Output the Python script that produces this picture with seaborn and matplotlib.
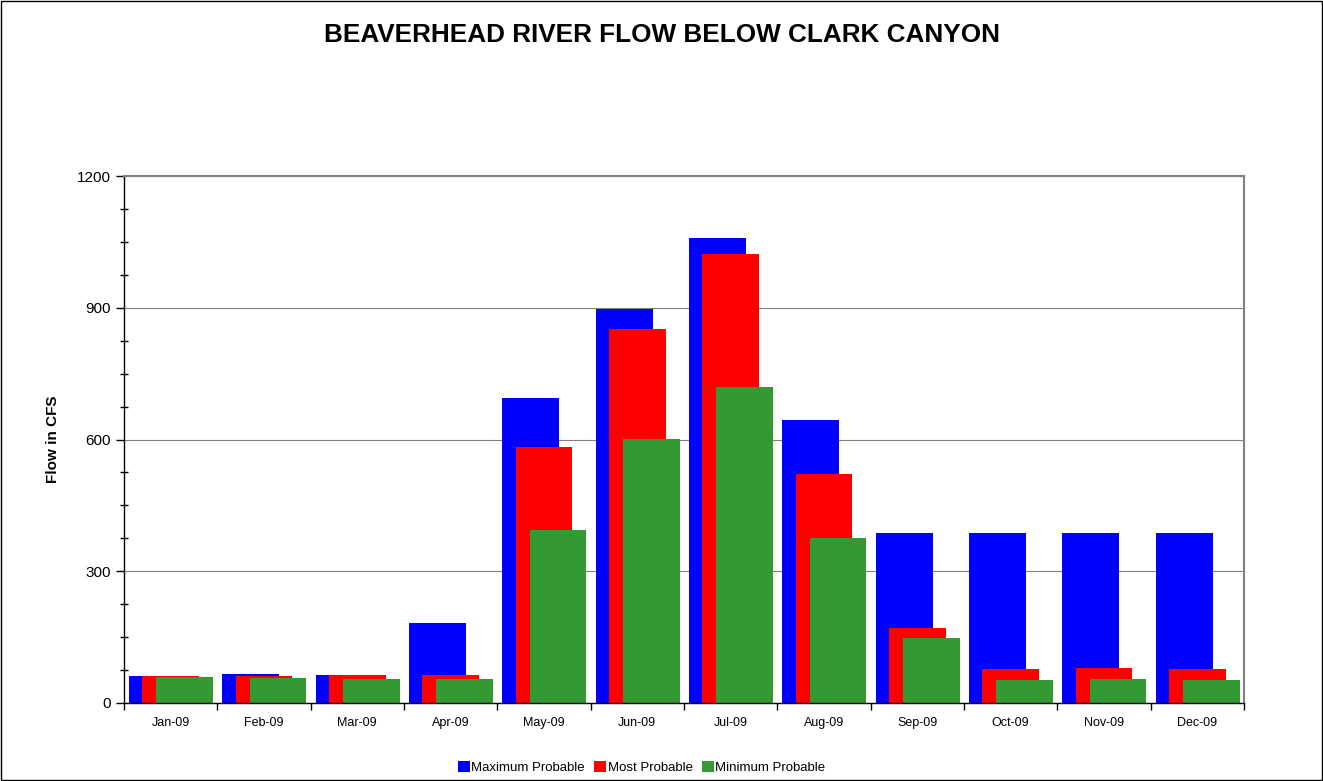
import pandas as pd
import matplotlib.pyplot as plt
import seaborn as sns
from matplotlib.patches import Rectangle
from matplotlib.ticker import MultipleLocator, FixedLocator

# Monthly flow forecasts (CFS)
months = ["Jan-09", "Feb-09", "Mar-09", "Apr-09", "May-09", "Jun-09",
          "Jul-09", "Aug-09", "Sep-09", "Oct-09", "Nov-09", "Dec-09"]
max_probable = [62, 66, 64, 182, 694, 898, 1060, 644, 387, 386, 387, 386]
most_probable = [62, 62, 63, 63, 583, 852, 1022, 521, 171, 77, 79, 77]
min_probable = [59, 58, 55, 55, 394, 601, 720, 376, 147, 52, 54, 52]

series = [
    ("Maximum Probable", max_probable, "#0000FF", -0.14),
    ("Most Probable", most_probable, "#FF0000", 0.0),
    ("Minimum Probable", min_probable, "#339933", 0.15),
]

sns.set_style("white")
plt.rcParams["font.family"] = ["Liberation Sans", "DejaVu Sans"]
plt.rcParams["text.color"] = "black"
plt.rcParams["axes.labelcolor"] = "black"
plt.rcParams["xtick.color"] = "black"
plt.rcParams["ytick.color"] = "black"

fig = plt.figure(figsize=(13.23, 7.81), dpi=100)
ax = fig.add_axes([0.0937, 0.0999, 0.8466, 0.6747])

bar_w = 0.61
for name, vals, color, shift in series:
    n_before = len(ax.patches)
    sns.barplot(x=months, y=vals, color=color, width=bar_w, ax=ax,
                linewidth=0, label=name, saturation=1)
    # shift this series' bars sideways so they overlap like the original
    for p in ax.patches[n_before:]:
        p.set_x(p.get_x() + shift)

if ax.get_legend() is not None:
    ax.get_legend().remove()

ax.set_xlim(-0.5, 11.5)
ax.set_ylim(0, 1200)
ax.yaxis.set_major_locator(MultipleLocator(300))
ax.yaxis.set_minor_locator(MultipleLocator(75))
ax.grid(axis="y", which="major", color="#808080", linewidth=0.8)
ax.set_axisbelow(True)

ax.xaxis.set_minor_locator(FixedLocator([i - 0.5 for i in range(13)]))
ax.tick_params(axis="x", which="major", length=0, labelsize=9, pad=10)
ax.tick_params(axis="x", which="minor", length=5, direction="out", width=1)
ax.tick_params(axis="y", which="major", length=6, direction="out", width=1, labelsize=11)
ax.tick_params(axis="y", which="minor", length=6, direction="inout", width=1)
ax.yaxis.set_ticks_position("left")
ax.xaxis.set_ticks_position("bottom")

for side in ["left", "bottom"]:
    ax.spines[side].set_color("black")
    ax.spines[side].set_linewidth(1)
for side in ["top", "right"]:
    ax.spines[side].set_visible(True)
    ax.spines[side].set_color("#808080")
    ax.spines[side].set_linewidth(1.5)

ax.set_xlabel("")
ax.set_ylabel("Flow in CFS", fontsize=11, fontweight="bold", labelpad=12)

fig.suptitle("BEAVERHEAD RIVER FLOW BELOW CLARK CANYON", fontsize=18.8,
             fontweight="bold", y=0.97)

handles, labels = ax.get_legend_handles_labels()
fig.legend(handles, labels, loc="center", bbox_to_anchor=(0.485, 0.017), ncol=3,
           frameon=False, fontsize=9.5, handlelength=0.9, handleheight=0.9,
           handletextpad=0.1, columnspacing=0.7)

fig.patches.append(Rectangle((0.001, 0.001), 0.998, 0.998, transform=fig.transFigure,
                             fill=False, edgecolor="black", linewidth=1))

plt.savefig("out.png", dpi=100)
plt.close()
